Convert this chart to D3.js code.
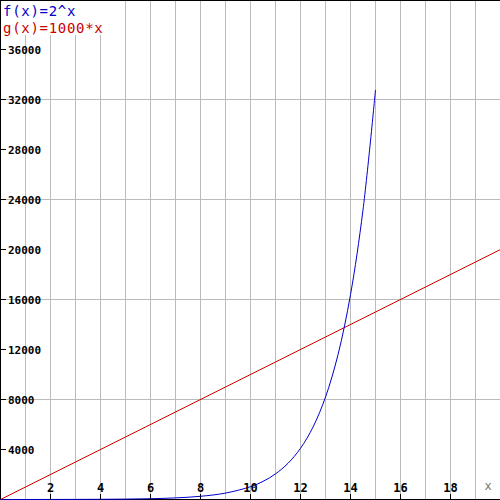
<!DOCTYPE html>
<html>
<head>
<meta charset="utf-8">
<script src="https://cdn.jsdelivr.net/npm/d3@7"></script>
<style>
body { margin: 0; background: #fff; }
svg { display: block; }
</style>
</head>
<body>
<svg id="chart" width="500" height="500"></svg>
<script>
// function values
var fX = [0, 1, 2, 3, 4, 5, 6, 7, 8, 9, 10, 10.5, 11, 11.5, 12, 12.5, 13, 13.5, 14, 14.5, 15];
var fY = [1, 2, 4, 8, 16, 32, 64, 128, 256, 512, 1024, 1448, 2048, 2896, 4096, 5793, 8192, 11585, 16384, 23170, 32768];
var gX = [0, 20];
var gY = [0, 20000];
var xTicks = [2, 4, 6, 8, 10, 12, 14, 16, 18];
var yTicks = [4000, 8000, 12000, 16000, 20000, 24000, 28000, 32000, 36000];
var xGrid = d3.range(1, 20);
var yGrid = [8000, 16000, 24000, 32000];

var W = 500, H = 500;
var x = d3.scaleLinear().domain([0, 20]).range([0.5, 500.5]);
var y = d3.scaleLinear().domain([0, 40000]).range([499.5, -0.5]);

var svg = d3.select("#chart");

// grid
svg.selectAll(".vgrid").data(xGrid).enter().append("line")
	.attr("x1", function(d) { return x(d); })
	.attr("x2", function(d) { return x(d); })
	.attr("y1", 0).attr("y2", H)
	.attr("stroke", "#bbb").attr("stroke-width", 1);
svg.selectAll(".hgrid").data(yGrid).enter().append("line")
	.attr("x1", 0).attr("x2", W)
	.attr("y1", function(d) { return y(d); })
	.attr("y2", function(d) { return y(d); })
	.attr("stroke", "#bbb").attr("stroke-width", 1);

// frame / axes
svg.append("line").attr("x1", 0).attr("x2", W).attr("y1", 0.5).attr("y2", 0.5).attr("stroke", "#000");
svg.append("line").attr("x1", 0.5).attr("x2", 0.5).attr("y1", 0).attr("y2", H).attr("stroke", "#000");
svg.append("line").attr("x1", 0).attr("x2", W).attr("y1", y(0)).attr("y2", y(0)).attr("stroke", "#000");

// lines
var line = d3.line()
	.x(function(d) { return x(d[0]); })
	.y(function(d) { return y(d[1]); })
	.curve(d3.curveCatmullRom);

svg.append("path")
	.datum(gX.map(function(v, i) { return [v, gY[i]]; }))
	.attr("d", line)
	.attr("fill", "none").attr("stroke", "#cc0000").attr("stroke-width", 1);

svg.append("path")
	.datum(fX.map(function(v, i) { return [v, fY[i]]; }))
	.attr("d", line)
	.attr("fill", "none").attr("stroke", "#0000cc").attr("stroke-width", 1);

// ticks
svg.selectAll(".xt").data(xTicks).enter().append("line")
	.attr("x1", function(d) { return x(d); })
	.attr("x2", function(d) { return x(d); })
	.attr("y1", 494).attr("y2", 500)
	.attr("stroke", "#000");
svg.selectAll(".xl").data(xTicks).enter().append("text")
	.attr("x", function(d) { return x(d); })
	.attr("y", 492)
	.attr("text-anchor", "middle")
	.attr("font-family", "DejaVu Sans Mono")
	.attr("font-weight", "bold")
	.attr("font-size", "12px")
	.text(function(d) { return d; });

svg.selectAll(".yt").data(yTicks).enter().append("line")
	.attr("x1", 0).attr("x2", 6)
	.attr("y1", function(d) { return y(d); })
	.attr("y2", function(d) { return y(d); })
	.attr("stroke", "#000");
svg.selectAll(".yl").data(yTicks).enter().append("text")
	.attr("x", 8)
	.attr("y", function(d) { return y(d) + 4; })
	.attr("font-family", "DejaVu Sans Mono")
	.attr("font-weight", "bold")
	.attr("font-size", "11px")
	.text(function(d) { return d; });

// x axis name
svg.append("text")
	.attr("x", 488).attr("y", 490)
	.attr("text-anchor", "middle")
	.attr("font-family", "DejaVu Sans Mono")
	.attr("font-size", "12px")
	.attr("fill", "#777")
	.text("x");

// legend
svg.append("rect").attr("x", 1).attr("y", 1).attr("width", 104).attr("height", 34).attr("fill", "#fff");
svg.append("text").attr("x", 3).attr("y", 16)
	.attr("font-family", "DejaVu Sans Mono").attr("font-size", "14px")
	.attr("letter-spacing", "0.7px")
	.attr("fill", "#0000cc").text("f(x)=2^x");
svg.append("text").attr("x", 3).attr("y", 33)
	.attr("font-family", "DejaVu Sans Mono").attr("font-size", "14px")
	.attr("letter-spacing", "0.7px")
	.attr("fill", "#cc0000").text("g(x)=1000*x");
</script>
</body>
</html>
